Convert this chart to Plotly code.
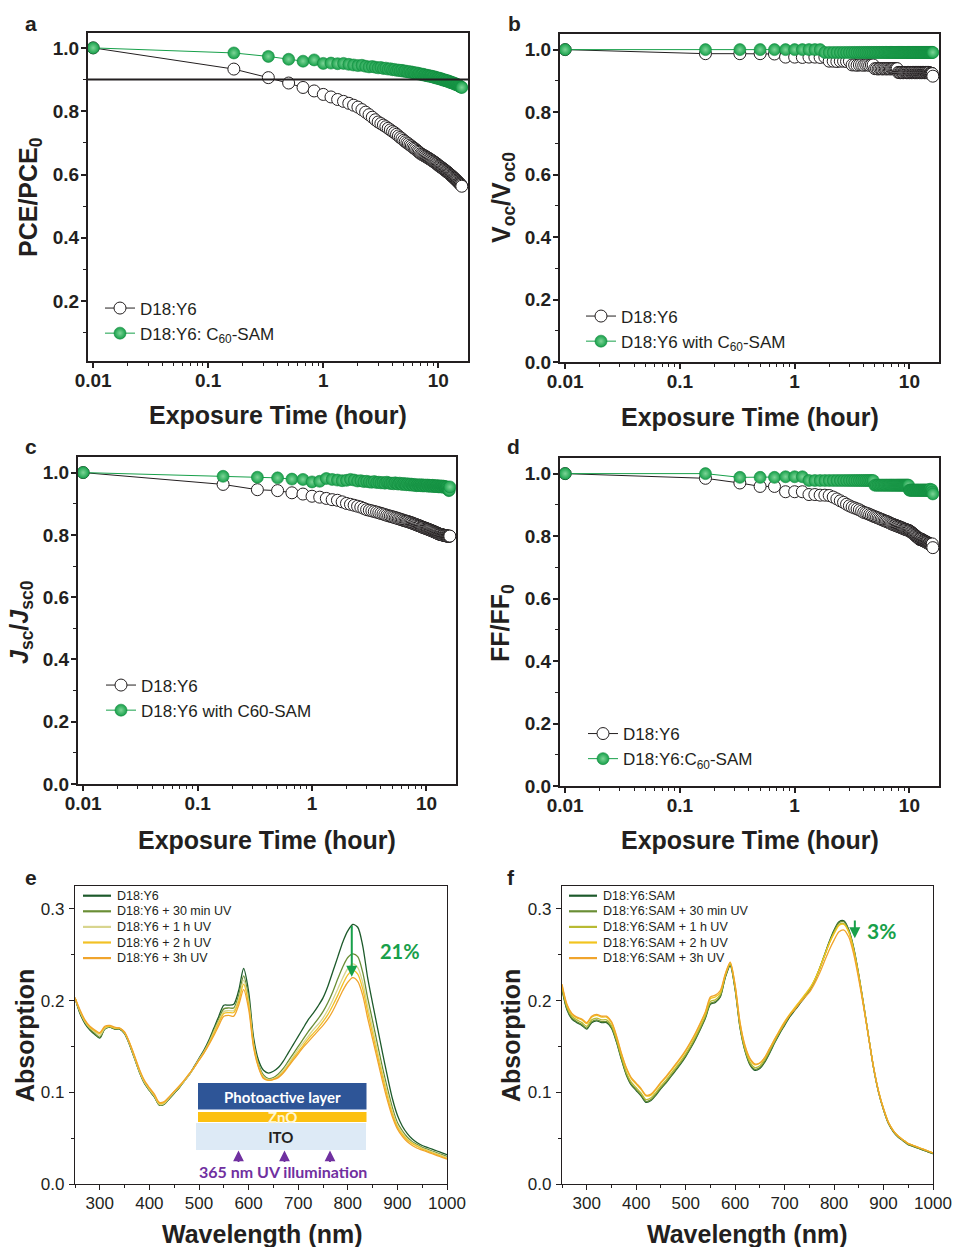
import plotly.graph_objects as go

# ---------------- exposure-time data (hours; fresh device plotted at 0.01 h) ----------------
time_h = [0.01, 0.167, 0.333, 0.5, 0.667, 0.833, 1.0, 1.167, 1.333, 1.5, 1.667, 1.833, 2.0,
          2.167, 2.333, 2.5, 2.667, 2.833, 3.0, 3.167, 3.333, 3.5, 3.667, 3.833, 4.0,
          4.167, 4.333, 4.5, 4.667, 4.833, 5.0, 5.167, 5.333, 5.5, 5.667, 5.833, 6.0,
          6.167, 6.333, 6.5, 6.667, 6.833, 7.0, 7.167, 7.333, 7.5, 7.667, 7.833, 8.0,
          8.167, 8.333, 8.5, 8.667, 8.833, 9.0, 9.167, 9.333, 9.5, 9.667, 9.833, 10.0,
          10.167, 10.333, 10.5, 10.667, 10.833, 11.0, 11.167, 11.333, 11.5, 11.667, 11.833, 12.0,
          12.167, 12.333, 12.5, 12.667, 12.833, 13.0, 13.167, 13.333, 13.5, 13.667, 13.833, 14.0,
          14.167, 14.333, 14.5, 14.667, 14.833, 15.0, 15.167, 15.333, 15.5, 15.667, 15.833, 16.0]

pce_ref = [1.0, .933, .906, .889, .875, .864, .853, .845, .837, .831, .825, .819, .813,
           .805, .797, .789, .781, .773, .766, .761, .756, .751, .746, .741, .736,
           .732, .727, .722, .717, .713, .708, .704, .700, .697, .693, .690, .686,
           .683, .680, .676, .673, .670, .666, .664, .662, .660, .658, .656, .654,
           .652, .650, .648, .646, .644, .642, .640, .638, .636, .634, .632, .629,
           .627, .625, .624, .622, .620, .618, .616, .615, .613, .611, .609, .607,
           .606, .604, .602, .600, .598, .597, .595, .593, .591, .589, .588, .586,
           .584, .582, .580, .579, .577, .575, .573, .571, .570, .568, .566, .563]
pce_sam = [1.0, .984, .973, .964, .958, .962, .951, .952, .950, .951, .948, .946, .944,
           .945, .942, .940, .941, .939, .937, .938, .935, .936, .933, .934, .931,
           .932, .929, .930, .928, .929, .926, .927, .925, .924, .925, .922, .923,
           .921, .920, .921, .918, .919, .917, .916, .917, .914, .915, .913, .912,
           .913, .911, .910, .911, .909, .908, .909, .906, .907, .905, .904, .905,
           .903, .902, .903, .900, .901, .899, .898, .899, .897, .896, .897, .895,
           .894, .895, .892, .893, .891, .890, .891, .889, .888, .889, .886, .887,
           .885, .884, .885, .883, .882, .881, .880, .879, .878, .877, .876, .875]

voc_ref = [1.0, .987, .987, .987, .986, .976, .976, .975, .976, .976, .975, .976, .963,
           .963, .962, .963, .963, .962, .963, .951, .951, .950, .951, .951, .950,
           .951, .951, .950, .951, .951, .939, .939, .938, .939, .939, .938, .939,
           .939, .938, .939, .939, .938, .939, .939, .939, .938, .939, .939, .927,
           .927, .926, .927, .927, .926, .927, .927, .927, .926, .927, .927, .926,
           .927, .927, .926, .927, .927, .927, .926, .927, .927, .926, .927, .927,
           .927, .926, .927, .927, .926, .927, .927, .927, .926, .927, .927, .926,
           .927, .927, .926, .927, .927, .924, .924, .923, .924, .924, .923, .915]
voc_sam = [1.0, 1.0, 1.0, 1.0, 1.0, 1.0, 1.0, 1.0, 1.0, 1.0, 1.0, .991, .991,
           .991, .991, .991, .991, .991, .991, .991, .991, .991, .991, .991, .991,
           .991, .991, .991, .991, .991, .991, .991, .991, .991, .991, .991, .991,
           .991, .991, .991, .991, .991, .991, .991, .991, .991, .991, .991, .991,
           .991, .991, .991, .991, .991, .991, .991, .991, .991, .991, .991, .991,
           .991, .991, .991, .991, .991, .991, .991, .991, .991, .991, .991, .991,
           .991, .991, .991, .991, .991, .991, .991, .991, .991, .991, .991, .991,
           .991, .991, .991, .991, .991, .991, .991, .991, .991, .991, .991, .991]

jsc_ref = [1.0, .962, .945, .942, .935, .931, .924, .921, .917, .913, .911, .906, .901,
           .898, .895, .892, .889, .885, .881, .879, .877, .875, .873, .871, .869,
           .867, .865, .863, .861, .860, .858, .857, .855, .854, .852, .851, .849,
           .848, .846, .845, .844, .843, .842, .840, .839, .838, .836, .835, .834,
           .833, .831, .830, .829, .828, .826, .825, .824, .823, .822, .821, .820,
           .819, .818, .817, .816, .815, .814, .813, .812, .811, .810, .809, .808,
           .807, .806, .805, .804, .803, .802, .802, .801, .801, .800, .800, .799,
           .799, .798, .798, .797, .797, .797, .796, .796, .796, .795, .796, .796]
jsc_sam = [1.0, .988, .985, .983, .979, .978, .970, .972, .981, .978, .976, .974, .975,
           .978, .976, .973, .974, .971, .972, .970, .969, .971, .968, .969, .967,
           .968, .966, .969, .967, .965, .966, .964, .967, .965, .963, .966, .964,
           .962, .965, .963, .961, .964, .962, .960, .963, .961, .959, .962, .960,
           .958, .961, .959, .960, .958, .961, .959, .957, .960, .958, .959, .957,
           .960, .958, .956, .959, .957, .958, .956, .959, .957, .955, .958, .956,
           .957, .955, .958, .956, .954, .957, .955, .956, .954, .957, .955, .953,
           .956, .954, .955, .953, .951, .954, .952, .949, .945, .942, .944, .954]

ff_ref = [1.0, .985, .970, .959, .959, .942, .942, .942, .933, .933, .931, .931, .930,
          .925, .919, .913, .908, .902, .897, .893, .890, .887, .884, .880, .876,
          .874, .872, .869, .867, .864, .862, .860, .858, .856, .854, .852, .850,
          .848, .847, .845, .843, .841, .839, .838, .836, .835, .834, .832, .831,
          .830, .828, .827, .826, .824, .823, .822, .821, .820, .819, .818, .817,
          .815, .813, .811, .809, .807, .805, .803, .801, .799, .797, .795, .793,
          .791, .789, .791, .788, .790, .787, .785, .786, .784, .782, .783, .781,
          .779, .780, .778, .776, .777, .775, .773, .774, .772, .770, .775, .763]
ff_sam = [1.0, 1.0, .988, .988, .988, .990, .990, .990, .978, .978, .978, .978, .978,
          .978, .978, .978, .978, .978, .978, .978, .978, .978, .978, .978, .978,
          .978, .978, .978, .978, .978, .963, .963, .963, .963, .963, .963, .963,
          .963, .963, .963, .963, .963, .963, .963, .963, .963, .963, .963, .963,
          .963, .963, .963, .963, .963, .963, .963, .963, .963, .963, .963, .947,
          .947, .947, .947, .947, .947, .947, .947, .947, .947, .947, .947, .947,
          .947, .947, .947, .947, .947, .947, .947, .947, .947, .947, .947, .947,
          .947, .947, .947, .947, .947, .947, .950, .945, .942, .948, .941, .935]

# ---------------- absorption spectra ----------------
wavelength_nm = [250, 260, 270, 280, 290, 300, 310, 320, 330, 340,
                 350, 360, 370, 380, 390, 400, 410, 420, 430, 440,
                 450, 460, 470, 480, 490, 500, 510, 520, 530, 540,
                 550, 560, 570, 580, 590, 600, 610, 620, 630, 640,
                 650, 660, 670, 680, 690, 700, 710, 720, 730, 740,
                 750, 760, 770, 780, 790, 800, 810, 820, 830, 840,
                 850, 860, 870, 880, 890, 900, 910, 920, 930, 940,
                 950, 960, 970, 980, 990, 1000]

abs_ref_0 = [.203, .186, .175, .168, .163, .159, .169, .171, .169, .169,
             .164, .152, .137, .122, .110, .102, .095, .086, .087, .093,
             .099, .105, .112, .119, .128, .137, .146, .157, .170, .183,
             .195, .195, .196, .211, .235, .210, .160, .135, .124, .121,
             .123, .127, .134, .143, .152, .161, .170, .179, .186, .194,
             .203, .216, .232, .248, .264, .276, .283, .280, .260, .225,
             .197, .170, .143, .117, .093, .075, .063, .055, .049, .045,
             .042, .040, .038, .036, .034, .032]
abs_ref_30min = [.203, .187, .176, .169, .164, .160, .169, .171, .169, .169,
                 .164, .152, .137, .122, .110, .102, .095, .086, .087, .093,
                 .099, .105, .112, .119, .127, .136, .145, .155, .168, .180,
                 .191, .192, .192, .206, .227, .203, .155, .131, .119, .115,
                 .116, .120, .126, .134, .142, .150, .158, .166, .173, .180,
                 .188, .198, .210, .224, .237, .247, .251, .248, .231, .203,
                 .178, .152, .127, .104, .083, .067, .058, .051, .046, .043,
                 .040, .038, .036, .034, .032, .030]
abs_ref_1h = [.203, .188, .177, .170, .166, .162, .170, .172, .170, .170,
              .165, .153, .138, .123, .111, .103, .096, .087, .088, .094,
              .100, .106, .112, .119, .127, .136, .144, .154, .166, .178,
              .188, .189, .189, .202, .222, .199, .153, .129, .117, .114,
              .115, .118, .124, .131, .139, .147, .154, .161, .168, .174,
              .181, .190, .201, .213, .225, .235, .240, .236, .220, .194,
              .170, .145, .121, .099, .079, .064, .056, .049, .045, .042,
              .039, .037, .035, .033, .031, .029]
abs_ref_2h = [.203, .189, .178, .171, .167, .164, .171, .172, .170, .170,
              .165, .154, .139, .124, .112, .104, .097, .088, .089, .095,
              .101, .106, .113, .120, .127, .135, .143, .153, .164, .176,
              .186, .187, .187, .199, .218, .196, .151, .128, .116, .113,
              .114, .117, .122, .129, .137, .144, .151, .158, .164, .170,
              .177, .185, .195, .206, .218, .228, .233, .229, .213, .188,
              .164, .140, .117, .095, .076, .062, .054, .048, .044, .041,
              .038, .036, .034, .032, .030, .028]
abs_ref_3h = [.203, .190, .179, .172, .168, .165, .172, .173, .171, .170,
              .166, .154, .140, .125, .113, .105, .098, .089, .090, .095,
              .101, .107, .113, .120, .127, .135, .143, .152, .162, .173,
              .183, .184, .183, .195, .212, .191, .149, .127, .115, .113,
              .114, .116, .121, .128, .135, .142, .149, .155, .161, .167,
              .173, .180, .189, .200, .211, .220, .225, .221, .206, .181,
              .158, .135, .112, .091, .073, .060, .052, .046, .042, .039,
              .037, .035, .033, .031, .029, .027]

abs_sam_0 = [.212, .190, .180, .176, .173, .169, .176, .178, .176, .176,
             .170, .155, .136, .119, .108, .102, .096, .089, .091, .097,
             .104, .110, .117, .124, .131, .139, .148, .158, .169, .181,
             .196, .198, .204, .225, .238, .212, .170, .145, .130, .124,
             .126, .133, .143, .154, .164, .173, .182, .189, .196, .203,
             .211, .221, .234, .249, .264, .277, .286, .287, .277, .257,
             .228, .195, .160, .126, .100, .081, .066, .057, .051, .047,
             .043, .041, .039, .037, .035, .033]
abs_sam_30min = [.213, .191, .181, .177, .174, .170, .177, .179, .177, .177,
                 .171, .156, .137, .120, .109, .103, .097, .090, .092, .098,
                 .105, .111, .118, .125, .132, .140, .149, .159, .170, .182,
                 .197, .199, .205, .226, .239, .213, .171, .146, .131, .125,
                 .127, .134, .144, .155, .165, .174, .183, .190, .197, .204,
                 .211, .221, .234, .248, .263, .276, .285, .286, .276, .256,
                 .227, .194, .160, .126, .100, .081, .066, .057, .051, .047,
                 .043, .041, .039, .037, .035, .033]
abs_sam_1h = [.215, .193, .183, .179, .176, .172, .179, .181, .179, .179,
              .173, .158, .139, .122, .111, .105, .099, .092, .094, .100,
              .107, .113, .120, .127, .134, .142, .151, .161, .172, .184,
              .199, .201, .207, .227, .240, .214, .172, .147, .133, .127,
              .129, .136, .146, .156, .166, .175, .184, .191, .198, .205,
              .212, .222, .234, .248, .262, .274, .283, .284, .275, .255,
              .227, .194, .160, .127, .101, .082, .067, .058, .052, .048,
              .044, .042, .040, .038, .036, .034]
abs_sam_2h = [.217, .195, .185, .181, .179, .175, .182, .184, .182, .182,
              .176, .161, .142, .126, .115, .109, .103, .096, .097, .103,
              .110, .116, .123, .130, .137, .145, .154, .164, .175, .187,
              .202, .204, .209, .228, .241, .216, .175, .150, .136, .130,
              .132, .138, .148, .158, .168, .177, .185, .192, .199, .206,
              .213, .222, .234, .248, .262, .273, .282, .283, .274, .254,
              .226, .194, .160, .127, .101, .082, .067, .058, .052, .048,
              .044, .042, .040, .038, .036, .034]
abs_sam_3h = [.218, .196, .186, .182, .180, .176, .183, .185, .183, .183,
              .177, .162, .143, .127, .116, .110, .104, .097, .098, .104,
              .111, .117, .124, .131, .138, .146, .155, .165, .176, .188,
              .204, .206, .211, .229, .242, .217, .176, .151, .137, .131,
              .132, .138, .148, .158, .167, .176, .184, .190, .197, .203,
              .209, .218, .229, .242, .255, .266, .275, .277, .269, .250,
              .223, .192, .159, .127, .101, .082, .067, .058, .052, .048,
              .044, .042, .040, .038, .036, .034]

ref_names = ["D18:Y6", "D18:Y6 + 30 min UV", "D18:Y6 + 1 h UV", "D18:Y6 + 2 h UV", "D18:Y6 + 3h UV"]
sam_names = ["D18:Y6:SAM", "D18:Y6:SAM + 30 min UV", "D18:Y6:SAM + 1 h UV",
             "D18:Y6:SAM + 2 h UV", "D18:Y6:SAM + 3h UV"]

# ---------------- styling ----------------
W, H = 953, 1247
FONT = "Liberation Sans, Arial, Helvetica, sans-serif"
CAL = "Lato, Open Sans, sans-serif"
INK = "#231f20"
GREEN = "#17a04a"
REF_COLORS = ["#1d5a2b", "#6a8e35", "#d8d58e", "#f2c125", "#f0a42c"]
SAM_COLORS = ["#1d5a2b", "#6a8e35", "#b8ba33", "#f2c41f", "#f0a42c"]


def fx(p):
    return p / W


def fy(p):
    return 1 - p / H


# panel boxes in pixels: left, right, top, bottom
boxes = [(88, 468, 33, 361), (560, 939, 34, 362), (78, 456, 457, 784),
         (560, 939, 458, 786), (75, 447, 886, 1184), (562, 933, 886, 1184)]


def axname(kind, i):
    return kind + ("axis" if i == 1 else f"axis{i}")


def ref(kind, i):
    return kind if i == 1 else f"{kind}{i}"


fig = go.Figure()
layout = dict(width=W, height=H, margin=dict(l=0, r=0, t=0, b=0, autoexpand=False),
              paper_bgcolor="white", plot_bgcolor="white", showlegend=True)

log_minor = [0.02, 0.03, 0.04, 0.05, 0.06, 0.07, 0.08, 0.09,
             0.2, 0.3, 0.4, 0.5, 0.6, 0.7, 0.8, 0.9,
             2, 3, 4, 5, 6, 7, 8, 9]
bold_tick = dict(family=FONT, size=19, color=INK, weight="bold")
plain_tick = dict(family=FONT, size=17, color=INK)

for i in range(1, 7):
    l, r, t, b = boxes[i - 1]
    xa = dict(domain=[fx(l), fx(r)], anchor=ref("y", i), showgrid=False, zeroline=False,
              showline=True, mirror=True, ticks="outside", tickcolor=INK, automargin=False)
    ya = dict(domain=[fy(b), fy(t)], anchor=ref("x", i), showgrid=False, zeroline=False,
              showline=True, mirror=True, ticks="outside", tickcolor=INK, automargin=False)
    if i <= 4:
        xa.update(type="log", range=[-2.045, 1.258], tickvals=[0.01, 0.1, 1, 10],
                  ticktext=["0.01", "0.1", "1", "10"], ticklen=5, tickwidth=1.6,
                  linewidth=2.2, linecolor=INK, tickfont=bold_tick, ticklabelstandoff=-4,
                  minor=dict(tickmode="array", tickvals=log_minor, ticks="outside",
                             ticklen=3, tickwidth=1.2, tickcolor=INK, showgrid=False))
        if i == 1:
            ya.update(range=[0.011, 1.047], tickvals=[0.2, 0.4, 0.6, 0.8, 1.0],
                      ticktext=["0.2", "0.4", "0.6", "0.8", "1.0"])
        else:
            ya.update(range=[0, 1.05], tickvals=[0, 0.2, 0.4, 0.6, 0.8, 1.0],
                      ticktext=["0.0", "0.2", "0.4", "0.6", "0.8", "1.0"])
        ya.update(ticklen=5, tickwidth=1.6, linewidth=2.2, linecolor=INK, tickfont=bold_tick,
                  ticklabelstandoff=-2,
                  minor=dict(tickmode="array", tickvals=[0.1, 0.3, 0.5, 0.7, 0.9], ticks="outside",
                             ticklen=3, tickwidth=1.2, tickcolor=INK, showgrid=False))
    else:
        xa.update(range=[250, 1000], tickvals=[300, 400, 500, 600, 700, 800, 900, 1000],
                  ticklen=5, tickwidth=1.2, linewidth=1.4, linecolor=INK, tickfont=plain_tick,
                  ticklabelstandoff=-2,
                  minor=dict(tickmode="array", tickvals=[250, 350, 450, 550, 650, 750, 850, 950],
                             ticks="outside", ticklen=3, tickwidth=1, tickcolor=INK, showgrid=False))
        ya.update(range=[0, 0.325], tickvals=[0, 0.1, 0.2, 0.3], ticktext=["0.0", "0.1", "0.2", "0.3"],
                  ticklen=5, tickwidth=1.2, linewidth=1.4, linecolor=INK, tickfont=plain_tick,
                  ticklabelstandoff=1,
                  minor=dict(tickmode="array", tickvals=[0.05, 0.15, 0.25], ticks="outside",
                             ticklen=3, tickwidth=1, tickcolor=INK, showgrid=False))
    layout[axname("x", i)] = xa
    layout[axname("y", i)] = ya

# ---------------- stability panels a-d ----------------
time_panels = [
    (pce_ref, pce_sam, "D18:Y6: C<sub>60</sub>-SAM", (121, 321)),
    (voc_ref, voc_sam, "D18:Y6 with C<sub>60</sub>-SAM", (602, 329)),
    (jsc_ref, jsc_sam, "D18:Y6 with C60-SAM", (122, 698)),
    (ff_ref, ff_sam, "D18:Y6:C<sub>60</sub>-SAM", (604, 746.5)),
]
for i, (y_ref, y_sam, sam_label, (mx, my)) in enumerate(time_panels, start=1):
    lg = "legend" if i == 1 else f"legend{i}"
    fig.add_trace(go.Scatter(
        x=time_h, y=y_ref, mode="lines+markers", name="D18:Y6",
        line=dict(color=INK, width=1),
        marker=dict(symbol="circle", size=12, color="white", line=dict(color=INK, width=1)),
        xaxis=ref("x", i), yaxis=ref("y", i), legend=lg))
    fig.add_trace(go.Scatter(
        x=time_h, y=y_sam, mode="lines+markers", name=sam_label,
        line=dict(color=GREEN, width=1),
        marker=dict(symbol="circle", size=12, color=GREEN, line=dict(color="#128a3e", width=0.6),
                    gradient=dict(type="radial", color="#7dd597")),
        xaxis=ref("x", i), yaxis=ref("y", i), legend=lg))
    layout[lg] = dict(x=fx(mx - 21), y=fy(my), xanchor="left", yanchor="middle",
                      bgcolor="rgba(0,0,0,0)", borderwidth=0, tracegroupgap=0,
                      font=dict(family=FONT, size=17, color=INK))

# ---------------- absorption panels e, f ----------------
for i, (series, names, colors) in ((5, ([abs_ref_0, abs_ref_30min, abs_ref_1h, abs_ref_2h, abs_ref_3h],
                                         ref_names, REF_COLORS)),
                                   (6, ([abs_sam_0, abs_sam_30min, abs_sam_1h, abs_sam_2h, abs_sam_3h],
                                        sam_names, SAM_COLORS))):
    for ys, nm, col in zip(series, names, colors):
        fig.add_trace(go.Scatter(
            x=wavelength_nm, y=ys, mode="lines", name=nm, showlegend=False,
            line=dict(color=col, width=1.3, shape="spline", smoothing=0.8),
            xaxis=ref("x", i), yaxis=ref("y", i)))

shapes = []
annotations = []

# 90 % guide line in panel a
shapes.append(dict(type="line", xref="x domain", yref="y", x0=0, x1=1, y0=0.9, y1=0.9,
                   line=dict(color=INK, width=2)))

# hand-drawn legends for the spectra
for names, colors, x0 in ((ref_names, REF_COLORS, 83), (sam_names, SAM_COLORS, 569)):
    for k, (nm, col) in enumerate(zip(names, colors)):
        yy = 895.7 + 15.6 * k
        shapes.append(dict(type="line", xref="paper", yref="paper", x0=fx(x0), x1=fx(x0 + 28),
                           y0=fy(yy), y1=fy(yy), line=dict(color=col, width=2.2)))
        annotations.append(dict(text=nm, xref="paper", yref="paper", x=fx(x0 + 32), y=fy(yy),
                                xanchor="left", yanchor="middle", showarrow=False,
                                font=dict(family=FONT, size=12.5, color=INK)))

# panel letters
for letter, (px, py) in zip("abcdef", [(31, 23), (514, 23), (31, 446), (513, 446), (31, 877), (511, 877)]):
    annotations.append(dict(text=letter, xref="paper", yref="paper", x=fx(px), y=fy(py),
                            xanchor="center", yanchor="middle", showarrow=False,
                            font=dict(family=FONT, size=21, color=INK, weight="bold")))

# axis titles
title_font = dict(family=FONT, size=25, color=INK, weight="bold")
x_titles = [("Exposure Time (hour)", 278, 415), ("Exposure Time (hour)", 750, 417),
            ("Exposure Time (hour)", 267, 840), ("Exposure Time (hour)", 750, 840),
            ("Wavelength (nm)", 262, 1234), ("Wavelength (nm)", 747, 1234)]
y_titles = [("PCE/PCE<sub>0</sub>", 30, 197), ("V<sub>oc</sub>/V<sub>oc0</sub>", 503, 198),
            ("<i>J</i><sub>sc</sub>/<i>J</i><sub>sc0</sub>", 21, 622), ("FF/FF<sub>0</sub>", 502, 623),
            ("Absorption", 25, 1036), ("Absorption", 511, 1036)]
for txt, px, py in x_titles:
    annotations.append(dict(text=txt, xref="paper", yref="paper", x=fx(px), y=fy(py),
                            xanchor="center", yanchor="middle", showarrow=False, font=title_font))
for txt, px, py in y_titles:
    annotations.append(dict(text=txt, xref="paper", yref="paper", x=fx(px), y=fy(py),
                            xanchor="center", yanchor="middle", showarrow=False, textangle=-90,
                            font=title_font))

# decrease arrows and percentages
annotations.append(dict(x=808, y=0.226, ax=808, ay=0.283, xref="x5", yref="y5", axref="x5", ayref="y5",
                        text="", showarrow=True, arrowhead=2, arrowsize=1.1, arrowwidth=2,
                        arrowcolor=GREEN))
annotations.append(dict(text="21%", xref="paper", yref="paper", x=fx(400), y=fy(951),
                        xanchor="center", yanchor="middle", showarrow=False,
                        font=dict(family=CAL, size=20, color=GREEN, weight="bold")))
annotations.append(dict(x=842, y=0.268, ax=842, ay=0.289, xref="x6", yref="y6", axref="x6", ayref="y6",
                        text="", showarrow=True, arrowhead=2, arrowsize=1.1, arrowwidth=2,
                        arrowcolor=GREEN))
annotations.append(dict(text="3%", xref="paper", yref="paper", x=fx(881), y=fy(931),
                        xanchor="center", yanchor="middle", showarrow=False,
                        font=dict(family=CAL, size=21, color=GREEN, weight="bold")))

# device stack sketch in panel e (ITO box is drawn last so it trims the ZnO label)
shapes.append(dict(type="rect", xref="paper", yref="paper", x0=fx(198), x1=fx(366.5),
                   y0=fy(1109.5), y1=fy(1083), fillcolor="#2e5597", line=dict(width=0), layer="above"))
shapes.append(dict(type="rect", xref="paper", yref="paper", x0=fx(198), x1=fx(366.5),
                   y0=fy(1122), y1=fy(1112), fillcolor="#fcc010", line=dict(width=0), layer="above"))
annotations.append(dict(text="Photoactive layer", xref="paper", yref="paper", x=fx(282), y=fy(1097),
                        xanchor="center", yanchor="middle", showarrow=False,
                        font=dict(family=CAL, size=15, color="white", weight="bold")))
annotations.append(dict(text="ZnO", xref="paper", yref="paper", x=fx(282), y=fy(1116.5),
                        xanchor="center", yanchor="middle", showarrow=False,
                        font=dict(family=CAL, size=15, color="#fff6d0", weight="bold")))
annotations.append(dict(text="ITO", xref="paper", yref="paper", x=fx(281.25), y=fy(1136.5),
                        xanchor="center", yanchor="middle", showarrow=False,
                        width=169.5, height=27, bgcolor="#ddeaf6", borderpad=0, borderwidth=0,
                        align="center", valign="middle",
                        font=dict(family=CAL, size=15, color=INK, weight="bold")))
for ax_px in (238.5, 284.5, 330):
    annotations.append(dict(text="", xref="paper", yref="paper", x=fx(ax_px), y=fy(1150.5),
                            ax=0, ay=13, showarrow=True, arrowhead=2, arrowsize=1.2,
                            arrowwidth=1.8, arrowcolor="#7030a0"))
annotations.append(dict(text="365 nm UV illumination", xref="paper", yref="paper", x=fx(283), y=fy(1171),
                        xanchor="center", yanchor="middle", showarrow=False,
                        font=dict(family=CAL, size=16, color="#7030a0", weight="bold")))

layout["shapes"] = shapes
layout["annotations"] = annotations
fig.update_layout(**layout)
fig.write_html("out.html")
